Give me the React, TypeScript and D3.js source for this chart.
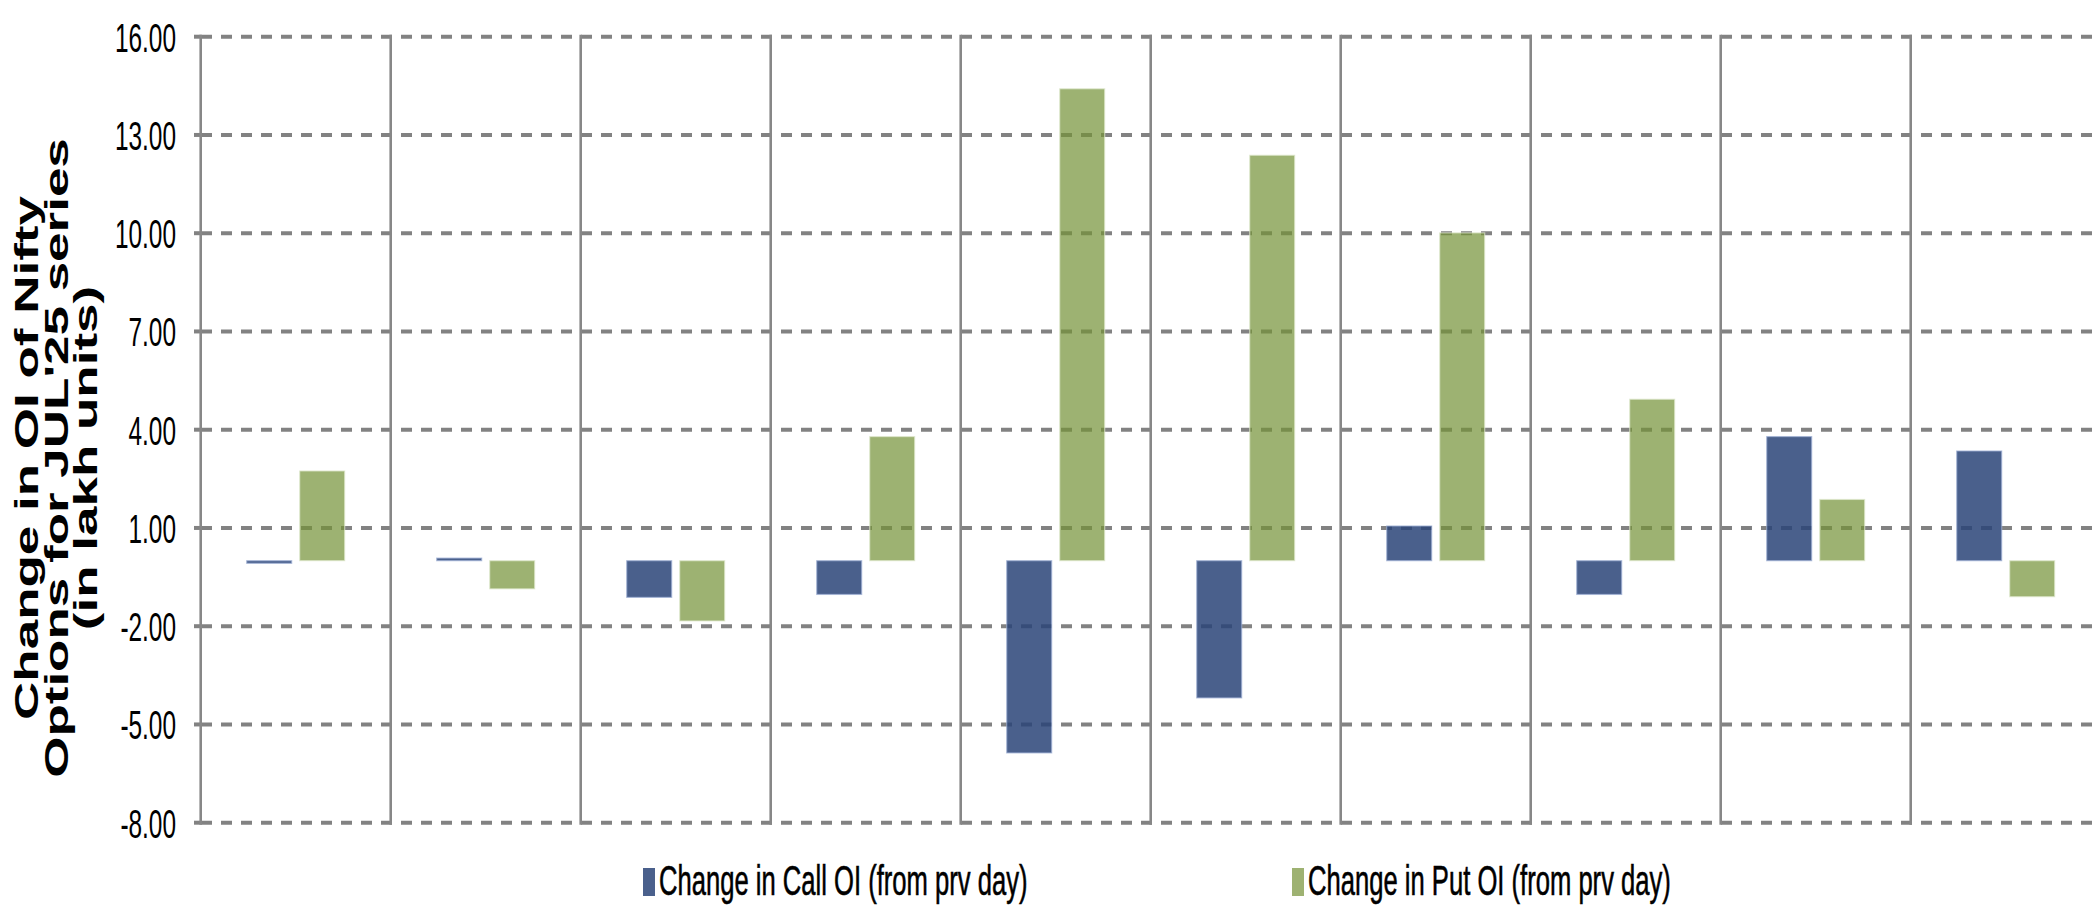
import React, { useRef, useEffect } from "react";
import * as d3 from "d3";

// daily change in OI, lakh units
const days = ["D1", "D2", "D3", "D4", "D5", "D6", "D7", "D8", "D9", "D10"];
const callOI = [-0.08, 0.08, -1.12, -1.03, -5.87, -4.19, 1.06, -1.03, 3.79, 3.35];
const putOI = [2.74, -0.86, -1.84, 3.79, 14.41, 12.38, 10.01, 4.93, 1.87, -1.1];
const yTicks = [-8, -5, -2, 1, 4, 7, 10, 13, 16];
const seriesKeys = ["call", "put"];
const seriesNames = ["Change in Call OI (from prv day)", "Change in Put OI (from prv day)"];
const titleLines = ["Change in OI of Nifty", "Options for JUL'25 series", "(in lakh units)"];

const width = 2097;
const height = 912;
const font = "'Liberation Sans', Arial, Helvetica, sans-serif";
const squish = 0.61;

const App = () => {
  const ref = useRef<SVGSVGElement>(null);

  useEffect(() => {
    document.body.style.margin = "0";
    const svg = d3.select(ref.current);
    svg.selectAll("*").remove();

    const x0 = d3.scaleBand().domain(days).range([200.7, 2100.7]).padding(0);
    const x1 = d3.scaleBand().domain(seriesKeys).range([46, 144]).paddingInner(0.151);
    const y = d3.scaleLinear().domain([-8, 16]).range([822.7, 36.7]);

    const fills: Record<string, string> = { call: "#2a4478", put: "#749136" };
    const opac: Record<string, number> = { call: 0.85, put: 0.7 };
    const edges: Record<string, string> = { call: "#9fb0d6", put: "#dfe8cf" };
    const swatch = ["#4a608c", "#9eb272"];

    // gridlines
    const grid = svg.append("g");
    grid.selectAll("line.g")
      .data(yTicks)
      .join("line")
      .attr("class", "g")
      .attr("x1", 201).attr("x2", width)
      .attr("y1", (d) => y(d)).attr("y2", (d) => y(d))
      .attr("stroke", "#828282")
      .attr("stroke-width", 4)
      .attr("stroke-dasharray", "11 9");
    grid.selectAll("line.t")
      .data(yTicks)
      .join("line")
      .attr("class", "t")
      .attr("x1", 194).attr("x2", 201)
      .attr("y1", (d) => y(d)).attr("y2", (d) => y(d))
      .attr("stroke", "#828282")
      .attr("stroke-width", 4);

    // category separators + axis
    const seps = [...days.map((d) => x0(d) as number), (x0(days[days.length - 1]) as number) + x0.bandwidth()];
    grid.selectAll("line.v")
      .data(seps)
      .join("line")
      .attr("class", "v")
      .attr("x1", (d) => d).attr("x2", (d) => d)
      .attr("y1", y(16) - 2).attr("y2", y(-8) + 2)
      .attr("stroke", "#878787")
      .attr("stroke-width", 2.6);

    // bars
    const rows = days.map((d, i) => ({ day: d, call: callOI[i], put: putOI[i] }));
    const groups = svg.append("g")
      .selectAll("g")
      .data(rows)
      .join("g")
      .attr("transform", (d) => `translate(${x0(d.day)},0)`);
    groups.selectAll("rect")
      .data((d) => seriesKeys.map((k) => ({ key: k, value: (d as any)[k] as number })))
      .join("rect")
      .attr("x", (d) => x1(d.key) as number)
      .attr("width", x1.bandwidth())
      .attr("y", (d) => y(Math.max(0, d.value)))
      .attr("height", (d) => Math.abs(y(d.value) - y(0)))
      .attr("fill", (d) => fills[d.key])
      .attr("fill-opacity", (d) => opac[d.key])
      .attr("stroke", (d) => edges[d.key])
      .attr("stroke-width", 1.2)
      .attr("stroke-opacity", 0.7);

    // y tick labels (plain hyphen for negatives)
    svg.append("g")
      .selectAll("text")
      .data(yTicks)
      .join("text")
      .attr("transform", (d) => `translate(176,${y(d) + 15}) scale(${squish},1)`)
      .attr("text-anchor", "end")
      .attr("font-family", font)
      .attr("font-size", 40)
      .attr("fill", "#000")
      .text((d) => d.toFixed(2));

    // y axis title
    const titleX = [38, 68, 97];
    svg.append("g")
      .selectAll("text")
      .data(titleLines)
      .join("text")
      .attr("transform", (d, i) => `translate(${titleX[i]},458) scale(${squish},1) rotate(-90)`)
      .attr("text-anchor", "middle")
      .attr("font-family", font)
      .attr("font-weight", "bold")
      .attr("font-size", 53)
      .attr("fill", "#000")
      .text((d) => d);

    // legend
    const legendX = [643, 1292];
    const leg = svg.append("g")
      .selectAll("g")
      .data(seriesNames)
      .join("g");
    leg.append("rect")
      .attr("x", (d, i) => legendX[i])
      .attr("y", 868)
      .attr("width", 12)
      .attr("height", 28)
      .attr("fill", (d, i) => swatch[i]);
    leg.append("text")
      .attr("transform", (d, i) => `translate(${legendX[i] + 16},895) scale(${squish},1)`)
      .attr("font-family", font)
      .attr("font-size", 42)
      .attr("fill", "#000")
      .attr("stroke", "#000")
      .attr("stroke-width", 0.6)
      .text((d) => d);
  }, []);

  return (
    <svg ref={ref} width={width} height={height} style={{ display: "block", background: "#fff" }}></svg>
  );
};

export default App;
